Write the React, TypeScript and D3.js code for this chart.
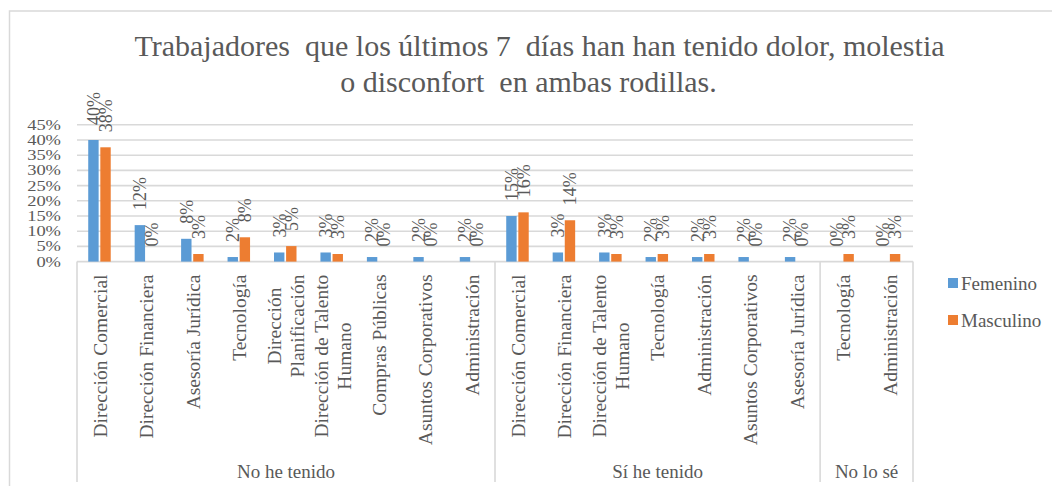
import React, { useMemo } from "react";
import * as d3 from "d3";

// ---------- data ----------
const titleLines = [
  "Trabajadores  que los últimos 7  días han han tenido dolor, molestia",
  "o disconfort  en ambas rodillas.",
];
const groupNames = ["No he tenido", "Sí he tenido", "No lo sé"];
const noHeCats = [
  "Dirección Comercial",
  "Dirección Financiera",
  "Asesoría Jurídica",
  "Tecnología",
  "Dirección\nPlanificación",
  "Dirección de Talento\nHumano",
  "Compras Públicas",
  "Asuntos Corporativos",
  "Administración",
];
const siHeCats = [
  "Dirección Comercial",
  "Dirección Financiera",
  "Dirección de Talento\nHumano",
  "Tecnología",
  "Administración",
  "Asuntos Corporativos",
  "Asesoría Jurídica",
];
const noSeCats = ["Tecnología", "Administración"];

const seriesNames = ["Femenino", "Masculino"];
const noHeFem = [40, 12, 7.5, 1.5, 3, 3, 1.5, 1.5, 1.5];
const noHeMas = [37.6, 0, 2.5, 8, 5.1, 2.5, 0, 0, 0];
const siHeFem = [15, 3, 3, 1.5, 1.5, 1.5, 1.5];
const siHeMas = [16.2, 13.6, 2.5, 2.5, 2.5, 0, 0];
const noSeFem = [0, 0];
const noSeMas = [2.5, 2.5];

const yTicks = [0, 5, 10, 15, 20, 25, 30, 35, 40, 45];
const colors = ["#5B9BD5", "#ED7D31"];

// ---------- styling ----------
const W = 1052;
const H = 486;
const FONT = '"Liberation Serif", "DejaVu Serif", serif';
const TEXT = "#595959";
const GRID = "#D9D9D9";

let ctx: CanvasRenderingContext2D | null = null;
function measure(text: string, size: number) {
  if (!ctx) ctx = document.createElement("canvas").getContext("2d");
  if (!ctx) return text.length * size * 0.45;
  ctx.font = `${size}px "Liberation Serif", "DejaVu Serif", serif`;
  return ctx.measureText(text).width;
}

const tStyle = { fontFamily: FONT } as const;

export default function App() {
  const groups = [
    { name: groupNames[0], cats: noHeCats, vals: [noHeFem, noHeMas] },
    { name: groupNames[1], cats: siHeCats, vals: [siHeFem, siHeMas] },
    { name: groupNames[2], cats: noSeCats, vals: [noSeFem, noSeMas] },
  ];

  const rows: { key: string; label: string; values: number[]; g: number }[] = [];
  groups.forEach((g, gi) =>
    g.cats.forEach((c, ci) =>
      rows.push({ key: `${gi}-${ci}`, label: c, values: [g.vals[0][ci], g.vals[1][ci]], g: gi })
    )
  );

  const plotLeft = 77;
  const plotRight = 913;
  const y0 = 261.6;
  const yTop = 124.8;

  const x = d3.scaleBand<string>().domain(rows.map((r) => r.key)).range([plotLeft, plotRight]).padding(0);
  const x1 = d3.scaleBand<string>().domain(seriesNames).range([-12, 10.5]).paddingInner(0.14);
  const y = d3.scaleLinear().domain([0, 45]).range([y0, yTop]);

  const catFont = 19.5;
  const lineGap = 23;
  const labelTop = 274.5;

  const boundaries: number[] = [];
  let idx = 0;
  groups.forEach((g) => {
    boundaries.push(x(rows[idx].key)!);
    idx += g.cats.length;
  });
  boundaries.push(plotRight);

  const catLabels = useMemo(
    () =>
      rows.map((r) => {
        const lines = r.label.split("\n");
        const L = Math.max(...lines.map((l) => measure(l, catFont)));
        return { lines, L };
      }),
    []
  );

  return (
    <svg
      width={W}
      height={H}
      style={{ position: "absolute", left: 0, top: 0, background: "#fff", fontFamily: FONT }}
    >
      <rect x={0} y={0} width={W} height={H} fill="#fff" />
      {/* outer chart border */}
      <rect x={9.5} y={11} width={1200} height={600} fill="none" stroke={GRID} strokeWidth={1.5} />

      {/* title */}
      <text x={539.5} y={56} textAnchor="middle" fontSize={30} fill={TEXT} style={{ ...tStyle, whiteSpace: "pre" }}>
        {titleLines[0]}
      </text>
      <text x={528.5} y={92} textAnchor="middle" fontSize={30} fill={TEXT} style={{ ...tStyle, whiteSpace: "pre" }}>
        {titleLines[1]}
      </text>

      {/* gridlines */}
      {yTicks.map((t) => (
        <line key={t} x1={plotLeft} x2={plotRight} y1={y(t)} y2={y(t)} stroke={GRID} strokeWidth={1.6} />
      ))}

      {/* y tick labels */}
      {yTicks.map((t) => (
        <text
          key={"t" + t}
          transform={`translate(61,${y(t)}) scale(1.32,1)`}
          textAnchor="end"
          dy="0.36em"
          fontSize={14}
          fill={TEXT}
          style={tStyle}
        >
          {t + "%"}
        </text>
      ))}

      {/* group dividers */}
      {boundaries.map((b, i) => (
        <line key={"b" + i} x1={b} x2={b} y1={y0} y2={482} stroke={GRID} strokeWidth={1.6} />
      ))}

      {/* bars */}
      {rows.map((r) =>
        r.values.map((v, si) =>
          v > 0 ? (
            <rect
              key={r.key + si}
              x={x(r.key)! + x.bandwidth() / 2 + x1(seriesNames[si])!}
              y={y(v)}
              width={x1.bandwidth()}
              height={y0 - y(v)}
              fill={colors[si]}
            />
          ) : null
        )
      )}

      {/* data labels */}
      {rows.map((r) =>
        r.values.map((v, si) => {
          const cx = x(r.key)! + x.bandwidth() / 2 + x1(seriesNames[si])! + x1.bandwidth() / 2;
          const ty = y(v) - 15;
          return (
            <text
              key={"l" + r.key + si}
              transform={`translate(${cx},${ty}) rotate(-90)`}
              dy="0.35em"
              textAnchor="start"
              fontSize={18}
              fill={TEXT}
              style={tStyle}
            >
              {Math.round(v) + "%"}
            </text>
          );
        })
      )}

      {/* category labels */}
      {rows.map((r, i) => {
        const { lines, L } = catLabels[i];
        const cx = x(r.key)! + x.bandwidth() / 2;
        const cy = labelTop + L / 2;
        return lines.map((ln, li) => {
          const lx = cx + (li - (lines.length - 1) / 2) * lineGap;
          return (
            <text
              key={"c" + r.key + li}
              transform={`translate(${lx},${cy}) rotate(-90)`}
              dy="0.35em"
              textAnchor="middle"
              fontSize={catFont}
              fill={TEXT}
              style={tStyle}
            >
              {ln}
            </text>
          );
        });
      })}

      {/* group labels */}
      {groups.map((g, gi) => (
        <text
          key={"g" + gi}
          x={(boundaries[gi] + boundaries[gi + 1]) / 2}
          y={478}
          textAnchor="middle"
          fontSize={19}
          fill={TEXT}
          style={tStyle}
        >
          {g.name}
        </text>
      ))}

      {/* legend */}
      {seriesNames.map((s, si) => (
        <g key={"lg" + s} transform={`translate(948,${283 + si * 37})`}>
          <rect x={0} y={-5} width={10} height={10} fill={colors[si]} />
          <text x={13} y={0} dy="0.35em" fontSize={19} fill={TEXT} style={tStyle}>
            {s}
          </text>
        </g>
      ))}
    </svg>
  );
}
